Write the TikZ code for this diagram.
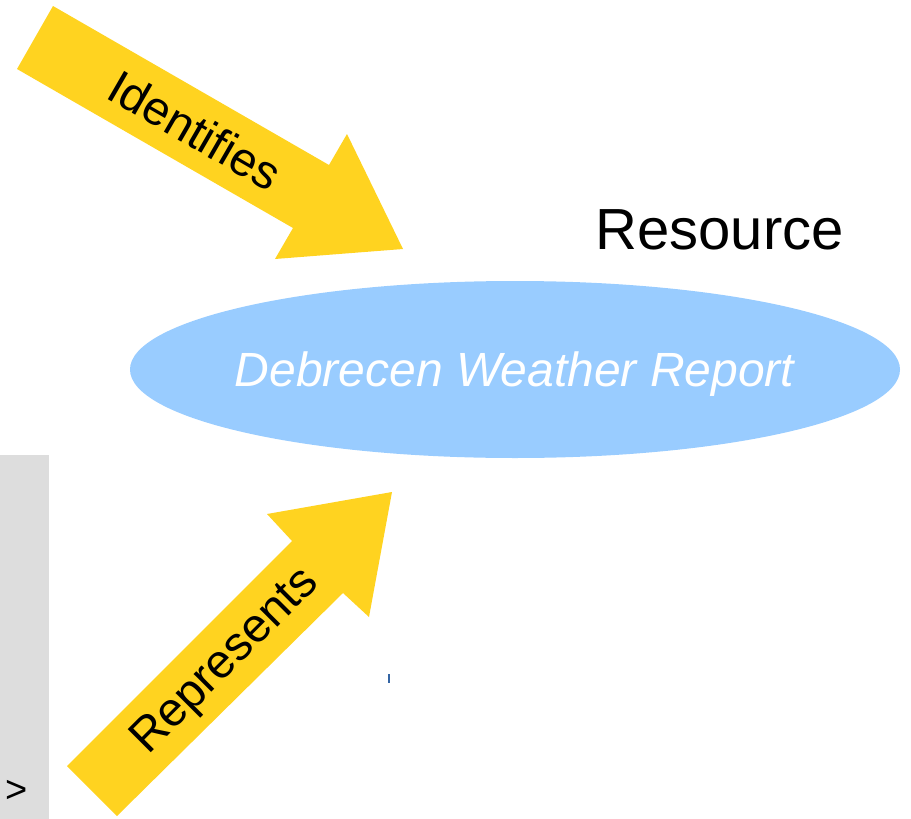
\documentclass[tikz,border=0pt]{standalone}
\usepackage{fontspec}
\setmainfont{Liberation Sans}
\definecolor{arrowyellow}{HTML}{FFD320}
\definecolor{ellblue}{HTML}{99CCFF}
\definecolor{sidegray}{HTML}{DDDDDD}
\definecolor{cursorblue}{HTML}{3465A4}
\tikzset{
  bigarrow/.style={fill=arrowyellow, draw=none},
  arrowlabel/.style={font=\fontsize{47.5}{50}\selectfont, text=black, inner sep=0pt}
}
\begin{document}
\begin{tikzpicture}[x=1pt,y=-1pt]
\useasboundingbox (0,0) rectangle (911,819);
% side panel
\fill[sidegray] (0,455) rectangle (49,819);
\node[font=\fontsize{38}{40}\selectfont, inner sep=0pt] (gt) at (17,791) {>};
% ellipse
\fill[ellblue] (515,369.5) ellipse [x radius=385, y radius=88.5];
\node[font=\fontsize{48}{50}\selectfont\itshape, text=white, anchor=base, inner sep=0pt] (res) at (514.5,386) {Debrecen Weather Report};
\node[font=\fontsize{58}{60}\selectfont, anchor=base, inner sep=0pt] (title) at (719.5,249) {Resource};
% Identifies arrow
\fill[bigarrow] (53,6) -- (329,165) -- (347,134) -- (403,249) -- (275,259) -- (293,228) -- (17,69) -- cycle;
\node[arrowlabel, rotate=-30] (ident) at (195,130) {Identifies};
% Represents arrow
\fill[bigarrow] (67,766) -- (292,541) -- (267,514) -- (392,492) -- (369,617) -- (343,593) -- (117,816) -- cycle;
\node[arrowlabel, rotate=45] (repr) at (226,662) {Represents};
% cursor mark
\fill[cursorblue] (388.3,674) rectangle (390,683);
\end{tikzpicture}
\end{document}
